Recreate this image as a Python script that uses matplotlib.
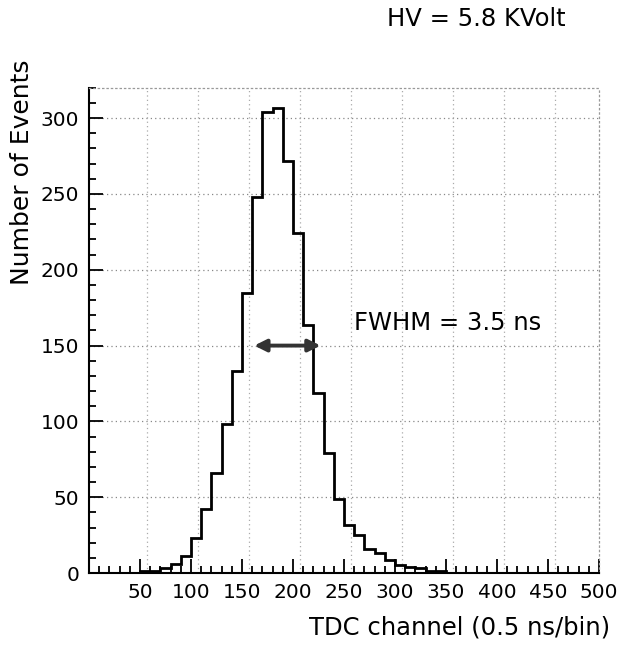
"""TDC timing spectrum at HV = 5.8 kV: step histogram with FWHM marker."""

import numpy as np
import matplotlib.pyplot as plt

# --- data (10-channel bins) ---
bin_edges = np.arange(0, 510, 10)
counts = [
    0, 0, 0, 0, 0, 1, 1, 3, 6, 11,          # 0 - 100
    23, 42, 66, 98, 133, 185, 248, 304, 307, 272,   # 100 - 200
    224, 163.5, 118.5, 79, 49, 31.6, 25, 16, 13, 8.6,  # 200 - 300
    5, 4, 3, 1, 1, 0, 0, 0, 0, 0,           # 300 - 400
    0, 0, 0, 0, 0, 0, 0, 0, 0, 0,           # 400 - 500
]
fwhm_range = [162, 227]
fwhm_level = 150
x_ticks = [50, 100, 150, 200, 250, 300, 350, 400, 450, 500]
y_ticks = [0, 50, 100, 150, 200, 250, 300]

plt.rcParams["font.family"] = ["DejaVu Sans"]

fig = plt.figure(figsize=(6.24, 6.46), dpi=100)
ax = fig.add_axes([0.1426, 0.113, 0.8174, 0.751])

ax.stairs(counts, bin_edges, color="black", lw=2.0, zorder=3)

# FWHM arrow
ax.annotate("", xy=(fwhm_range[0], fwhm_level), xytext=(fwhm_range[1], fwhm_level),
            arrowprops=dict(arrowstyle="<|-|>", color="#333333", lw=2.8,
                            mutation_scale=18, shrinkA=0, shrinkB=0), zorder=4)
ax.text(260, 165, "FWHM = 3.5 ns", fontsize=17.5, ha="left", va="center")

# dotted grid
for yv in y_ticks[1:]:
    ax.axhline(yv, color="#888888", lw=0.9, ls=(0, (1, 2.5)), zorder=1)
for xv in np.arange(57, 500, 50):
    ax.axvline(xv, color="#aaaaaa", lw=0.9, ls=(0, (1, 2.5)), zorder=1)

ax.set_xlim(0, 500)
ax.set_ylim(0, 320)
ax.set_xticks(x_ticks)
ax.set_xticks(np.arange(0, 501, 10), minor=True)
ax.set_yticks(y_ticks)
ax.set_yticks(np.arange(0, 321, 10), minor=True)
ax.tick_params(which="both", direction="in", top=False, right=False,
               width=1.3, labelsize=14.5)
ax.tick_params(which="major", length=10, pad=7)
ax.tick_params(which="minor", length=5)
for s in ax.spines.values():
    s.set_linewidth(1.5)
ax.spines["top"].set_color("#999999")
ax.spines["right"].set_color("#999999")
ax.spines["top"].set_linestyle((0, (1, 2.5)))
ax.spines["right"].set_linestyle((0, (1, 2.5)))
ax.spines["top"].set_linewidth(0.9)
ax.spines["right"].set_linewidth(0.9)

fig.text(0.035, 0.734, "Number of Events", fontsize=18, rotation=90,
         ha="center", va="center")
fig.text(0.978, 0.028, "TDC channel (0.5 ns/bin)", fontsize=17.5,
         ha="right", va="center")
fig.text(0.906, 0.970, "HV = 5.8 KVolt", fontsize=17.5, ha="right", va="center")

fig.savefig("out.png", dpi=100)
